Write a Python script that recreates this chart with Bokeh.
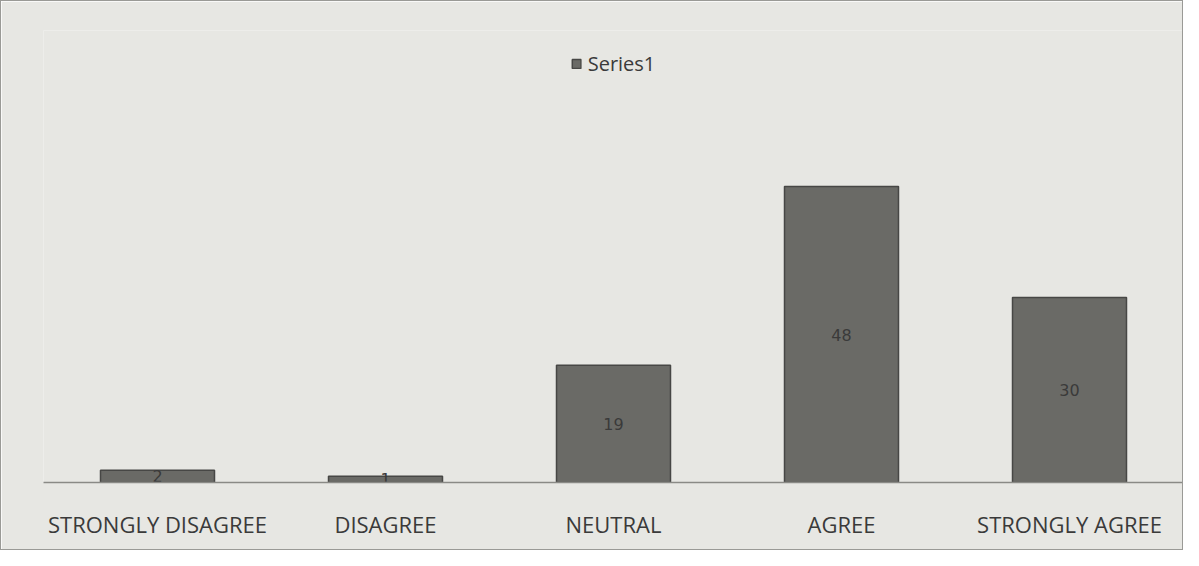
from bokeh.plotting import figure
from bokeh.models import ColumnDataSource, Legend, LegendItem, Range1d
from bokeh.core.properties import value
from bokeh.embed import file_html
from bokeh.resources import INLINE

categories = ["STRONGLY DISAGREE", "DISAGREE", "NEUTRAL", "AGREE", "STRONGLY AGREE"]
series1 = [2, 1, 19, 48, 30]
series_name = "Series1"

labels = [str(v) for v in series1]
mids = [v / 2 for v in series1]
src = ColumnDataSource(dict(cat=categories, val=series1, mid=mids, lab=labels))

bg = "#e7e7e3"
p = figure(x_range=categories, y_range=Range1d(0, 73.3), width=1183, height=550,
           output_backend="svg", toolbar_location=None,
           background_fill_color=bg, border_fill_color=bg,
           min_border_left=42, min_border_right=1, min_border_top=29, min_border_bottom=69)
p.styles = {"border": "1px solid #9a9a96"}
p.outline_line_color = None
p.xgrid.visible = False
p.ygrid.visible = False
p.yaxis.visible = False

bars = p.vbar(x="cat", top="val", width=0.5, source=src,
              fill_color="#6a6a66", line_color="#474745", line_width=1.5)
p.text(x="cat", y="mid", text="lab", source=src, text_align="center", text_baseline="middle",
       text_font=value("DejaVu Sans"), text_font_size="16px", text_color="#3a3a3a")

p.xaxis.axis_line_color = "#8a8a86"
p.xaxis.axis_line_width = 1.5
p.xaxis.major_tick_line_color = None
p.xaxis.minor_tick_line_color = None
p.xaxis.major_label_text_font = "Open Sans"
p.xaxis.major_label_text_font_size = "22px"
p.xaxis.major_label_text_color = "#3a3a3a"
p.xaxis.major_label_standoff = 20

legend = Legend(items=[LegendItem(label=series_name, renderers=[bars])],
                location="top_center", orientation="horizontal",
                background_fill_alpha=0, border_line_color=None,
                label_text_font="Open Sans", label_text_font_size="20px", label_text_color="#3a3a3a",
                glyph_width=11, glyph_height=11, label_standoff=6, margin=20, padding=0)
p.add_layout(legend, "center")

open("out.html", "w").write(file_html(p, INLINE))
